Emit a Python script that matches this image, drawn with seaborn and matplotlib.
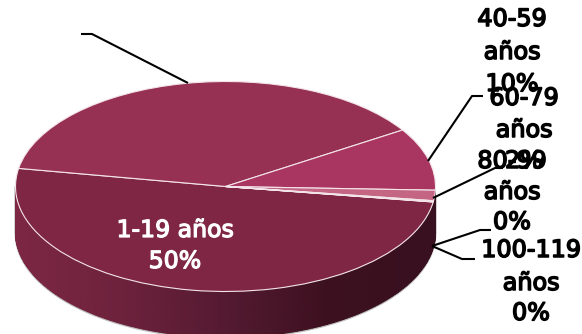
import numpy as np
import matplotlib
matplotlib.use("Agg")
import matplotlib.pyplot as plt
import matplotlib.patheffects as pe
from matplotlib.colors import LinearSegmentedColormap
from matplotlib.transforms import Affine2D
import seaborn as sns

sns.set_theme(style="white")
plt.rcParams["font.family"] = ["DejaVu Sans"]

# Age bands and their share of cases, in percent
age_bands = ["1-19 años", "20-39 años", "40-59 años", "60-79 años", "80-99 años", "100-119 años"]
shares = [50.4, 38.2, 9.6, 1.6, 0.15, 0.05]
slice_colors = ["#7F2645", "#973153", "#A93660", "#C46583", "#B94F75", "#8C2B50"]
wall_colors = ["#7C2743", "#6E223C", "#541A31", "#3C101F", "#38101F"]

W, H = 582, 334
cx, cy, rx, ry, depth = 225.5, 186.5, 210.0, 105.0, 46.0

fig = plt.figure(figsize=(W / 100, H / 100), dpi=100)
ax = fig.add_axes([0, 0, 1, 1])

wedges, _ = ax.pie(shares, startangle=-8.5, counterclock=False,
                   colors=slice_colors,
                   wedgeprops={"edgecolor": "#F3E4E9", "linewidth": 0.8, "zorder": 3})
ellipse = Affine2D().scale(rx, -ry).translate(cx, cy) + ax.transData
for w in wedges:
    w.set_transform(ellipse)

ax.set_aspect("auto")
ax.set_xlim(0, W)
ax.set_ylim(H, 0)
ax.axis("off")

# Cylinder wall under the front half of the disc, shaded left to right
t = np.linspace(np.pi, 0, 240)
ex = cx + rx * np.cos(t)
ey = cy + ry * np.sin(t)
X = np.vstack([ex, ex])
Y = np.vstack([ey, ey + depth])
C = np.vstack([ex, ex])
wall_cmap = LinearSegmentedColormap.from_list("wall", wall_colors)
ax.pcolormesh(X, Y, C, shading="gouraud", cmap=wall_cmap, zorder=2)

# Thin soft rim along the base of the wall and its right side
ax.plot(ex, ey + depth + 0.8, color="#BDBDBD", lw=1.4, zorder=1.5)
ax.plot([ex[0] - 0.8, ex[0] - 0.8], [ey[0], ey[0] + depth], color="#C8C8C8", lw=1.2, zorder=1.5)
ax.plot([ex[-1] + 0.8, ex[-1] + 0.8], [ey[-1] + 10, ey[-1] + depth], color="#C8C8C8", lw=1.2, zorder=1.5)

# Leader lines
leaders = [
    ([81, 92, 188], [34, 34, 83]),
    ([428, 472, 483], [161, 96, 96]),
    ([433, 495, 503], [198, 168, 168]),
    ([432, 480, 491], [246, 230, 230]),
    ([432, 462, 475], [246, 259, 259]),
]
for lx, ly in leaders:
    ax.plot(lx, ly, color="black", lw=1.5, zorder=4, solid_capstyle="butt")

# Percentage labels, one line per entry
callouts = [
    (["40-59", "años", "10%"], 512, [19, 52, 84]),
    (["60-79", "años", "2%"], 524, [98, 130, 161]),
    (["80-99", "años", "0%"], 512, [161, 192, 222]),
    (["100-119", "años", "0%"], 531, [250, 283, 313]),
]
stroke_k = [pe.withStroke(linewidth=1.1, foreground="black")]
for lines, x, ys in callouts:
    for line, y in zip(lines, ys):
        ax.text(x, y, line, ha="center", va="center", fontsize=17.2, color="black",
                path_effects=stroke_k, zorder=5)

stroke_w = [pe.withStroke(linewidth=0.9, foreground="white")]
for line, y in zip(["1-19 años", "50%"], [230, 261]):
    ax.text(175, y, line, ha="center", va="center", fontsize=17.0, color="white",
            path_effects=stroke_w, zorder=5)

fig.savefig("out.png", dpi=100, facecolor="white")
